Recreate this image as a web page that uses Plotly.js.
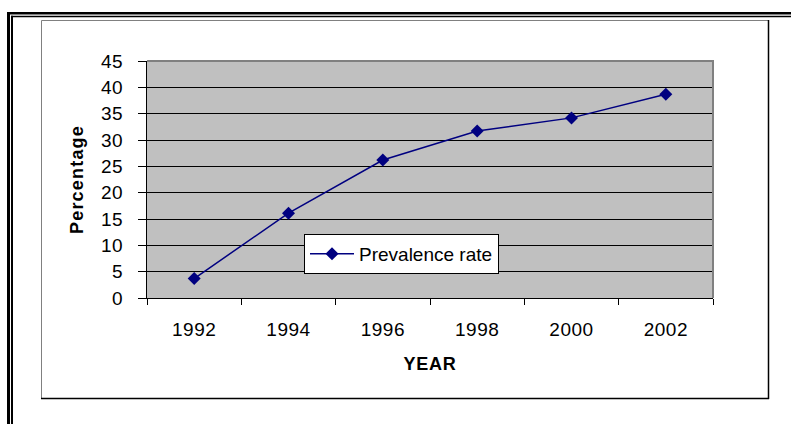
<!DOCTYPE html>
<html>
<head>
<meta charset="utf-8">
<script src="https://cdn.plot.ly/plotly-3.0.1.min.js"></script>
<style>
  html, body { margin: 0; padding: 0; background: #fff; }
  #chart { width: 791px; height: 424px; }
  text { letter-spacing: 0.5px; }
  .legendtext { letter-spacing: 0px; }
  .g-xtitle text { letter-spacing: 0.8px; }
  .g-ytitle text { letter-spacing: 1.2px; }
</style>
</head>
<body>
<div id="chart"></div>
<script>
// ---- data ----
const years = ['1992', '1994', '1996', '1998', '2000', '2002'];
const prevalence = [3.7, 16.1, 26.2, 31.7, 34.2, 38.7];
const seriesName = 'Prevalence rate';
const yTicks = [0, 5, 10, 15, 20, 25, 30, 35, 40, 45];

// ---- layout geometry (pixels) ----
const W = 791, H = 424;
const L = 147, R = 713, T = 61, B = 298;
const pw = R - L, ph = B - T;
const px = x => (x - L) / pw;
const py = y => (B - y) / ph;

function line(x0, y0, x1, y1, color, width) {
  return { type: 'line', xref: 'paper', yref: 'paper', layer: 'above',
    x0: px(x0), y0: py(y0), x1: px(x1), y1: py(y1),
    line: { color: color, width: width } };
}

const shapes = [
  // outer double frame (top and left)
  line(7, 13.25, 791, 13.25, '#000', 2.5),
  line(8.5, 12, 8.5, 424, '#000', 3),
  line(11, 16.5, 791, 16.5, '#000', 1.5),
  line(12, 15.75, 12, 424, '#000', 2),
  // chart area box
  line(41.5, 20.5, 768.5, 20.5, '#808080', 1),
  line(41.5, 20.5, 41.5, 398.5, '#808080', 1),
  line(768.5, 20, 768.5, 399, '#000', 1.5),
  line(41, 398.5, 769, 398.5, '#000', 1.5),
  // plot area top/right border
  line(147, 61, 714, 61, '#808080', 2),
  line(713, 60, 713, 298, '#808080', 2)
];

const trace = {
  x: years,
  y: prevalence,
  name: seriesName,
  type: 'scatter',
  mode: 'lines+markers',
  line: { color: '#000080', width: 1.5 },
  marker: { symbol: 'diamond', size: 10, color: '#000080' },
  cliponaxis: false
};

const font = { family: 'Liberation Sans, Arial, sans-serif', size: 19, color: '#000' };

const layout = {
  width: W, height: H,
  margin: { l: L, r: W - R, t: T, b: H - B, pad: 0 },
  paper_bgcolor: '#fff',
  plot_bgcolor: '#C0C0C0',
  font: font,
  showlegend: true,
  legend: {
    x: px(304), y: py(234), xanchor: 'left', yanchor: 'top',
    bgcolor: '#fff', bordercolor: '#000', borderwidth: 1,
    font: { family: font.family, size: 19, color: '#000' },
    itemwidth: 44
  },
  xaxis: {
    type: 'category',
    range: [-0.5, 5.5],
    tickson: 'boundaries',
    ticks: 'outside', ticklen: 6, tickcolor: '#000', tickwidth: 1,
    showline: true, linecolor: '#000', linewidth: 1,
    showgrid: false, zeroline: false,
    ticklabelstandoff: 14,
    tickfont: font,
    title: { text: 'YEAR', standoff: 18,
      font: { family: font.family, size: 18, color: '#000', weight: 'bold' } }
  },
  yaxis: {
    range: [0, 45],
    tickvals: yTicks,
    ticks: 'outside', ticklen: 8, tickcolor: '#000', tickwidth: 1,
    showline: true, linecolor: '#000', linewidth: 1,
    showgrid: true, gridcolor: '#000', gridwidth: 1,
    zeroline: false,
    ticklabelstandoff: 11,
    tickfont: font,
    title: { text: 'Percentage', standoff: 12,
      font: { family: font.family, size: 18, color: '#000', weight: 'bold' } }
  },
  shapes: shapes
};

Plotly.newPlot('chart', [trace], layout, { displayModeBar: false, staticPlot: true });
</script>
</body>
</html>
